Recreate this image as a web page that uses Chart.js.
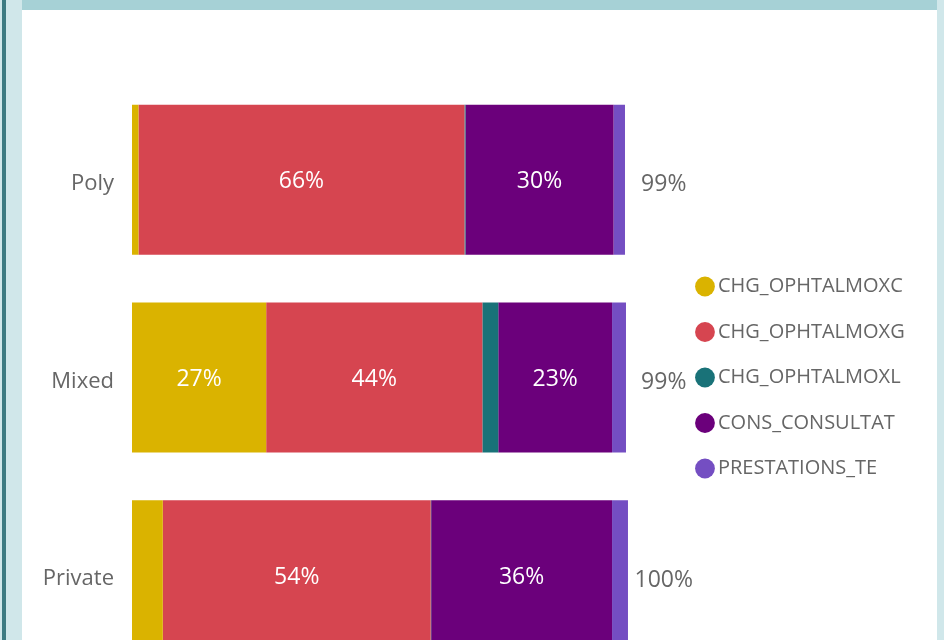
<!DOCTYPE html>
<html>
<head>
<meta charset="utf-8">
<script src="https://cdn.jsdelivr.net/npm/chart.js@4.4.1/dist/chart.umd.min.js"></script>
<style>
  html, body { margin: 0; padding: 0; }
  body { width: 944px; height: 640px; overflow: hidden; background: #d0e7ea; position: relative; }
  #edge { position: absolute; left: 2px; top: 0; width: 4px; height: 640px; background: #3d7b82; }
  #panel { position: absolute; left: 22px; top: 0; width: 915px; height: 640px; background: #fff; }
  #header { position: absolute; left: 22px; top: 0; width: 915px; height: 10px; background: #a6d1d6; }
  #wrap { position: absolute; left: 22px; top: 10px; width: 915px; height: 702px; }
</style>
</head>
<body>
<div id="edge"></div>
<div id="panel"></div>
<div id="header"></div>
<div id="wrap"><canvas id="chart" width="915" height="702"></canvas></div>
<script>
// --- Data (share of total, %) ---
const categories = ['Poly', 'Mixed', 'Private'];
const seriesNames = ['CHG_OPHTALMOXC', 'CHG_OPHTALMOXG', 'CHG_OPHTALMOXL', 'CONS_CONSULTAT', 'PRESTATIONS_TE'];
const seriesColors = ['#dab300', '#d64550', '#197278', '#6b007b', '#744ec2'];
const chgC = [1.3, 27.0, 6.2];
const chgG = [65.6, 43.5, 53.9];
const chgL = [0.2, 3.2, 0.1];
const consult = [29.8, 22.9, 36.4];
const prestations = [2.3, 2.8, 3.2];
const seriesValues = [chgC, chgG, chgL, consult, prestations];

const xMax = 109.56;
const textGray = '#666666';
const fontFamily = "'Open Sans', 'Noto Sans', sans-serif";

Chart.defaults.font.family = fontFamily;

// totals per category
const totals = categories.map((c, i) => seriesValues.reduce((s, arr) => s + arr[i], 0));

// --- Labels plugin: values inside the big segments + totals after the bars ---
const barLabels = {
    id: 'barLabels',
    afterDatasetsDraw(chart) {
        const ctx = chart.ctx;
        ctx.save();
        ctx.font = '23px ' + fontFamily;
        ctx.textAlign = 'center';
        ctx.textBaseline = 'middle';
        chart.data.datasets.forEach((ds, di) => {
            const meta = chart.getDatasetMeta(di);
            meta.data.forEach((bar, i) => {
                const v = ds.data[i];
                if (v < 10) return;
                const p = bar.getCenterPoint();
                ctx.fillStyle = '#ffffff';
                ctx.fillText(Math.round(v) + '%', p.x, p.y + 2);
            });
        });
        const xs = chart.scales.x;
        const ys = chart.scales.y;
        ctx.fillStyle = textGray;
        totals.forEach((t, i) => {
            ctx.fillText(Math.round(t) + '%', xs.getPixelForValue(107), ys.getPixelForValue(i) + 5);
        });
        ctx.restore();
    }
};

function build() {
    new Chart(document.getElementById('chart'), {
        type: 'bar',
        data: {
            labels: categories,
            datasets: seriesNames.map((name, i) => ({
                label: name,
                data: seriesValues[i],
                backgroundColor: seriesColors[i],
                borderWidth: 0,
                barPercentage: 0.7585,
                categoryPercentage: 1
            }))
        },
        options: {
            indexAxis: 'y',
            responsive: false,
            animation: false,
            layout: { padding: { top: 71, bottom: 38, left: 0, right: 22.3 } },
            scales: {
                x: {
                    stacked: true,
                    display: false,
                    min: 0,
                    max: xMax
                },
                y: {
                    stacked: true,
                    grid: { display: false, drawTicks: false },
                    border: { display: false },
                    afterFit(scale) { scale.width = 110; },
                    ticks: {
                        color: textGray,
                        padding: 18,
                        labelOffset: 4,
                        font: { size: 22 }
                    }
                }
            },
            plugins: {
                legend: {
                    position: 'right',
                    maxWidth: 300,
                    labels: {
                        usePointStyle: true,
                        pointStyle: 'circle',
                        boxWidth: 6,
                        boxHeight: 14,
                        padding: 25.5,
                        color: textGray,
                        font: { size: 20 }
                    }
                },
                tooltip: { enabled: false }
            }
        },
        plugins: [barLabels]
    });
}

// make sure the font is ready before Chart.js measures text
document.fonts.load("20px 'Open Sans'").then(build, build);
</script>
</body>
</html>
